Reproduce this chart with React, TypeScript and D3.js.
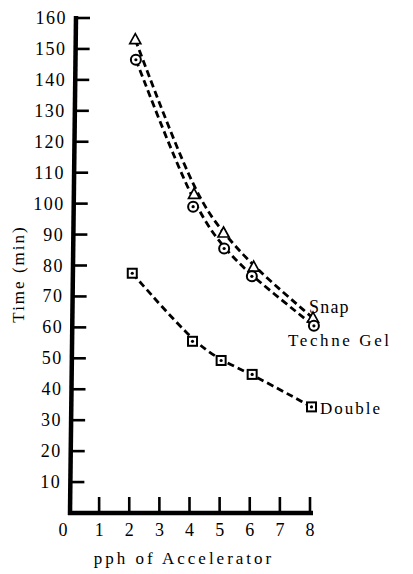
import React from "react";
import * as d3 from "d3";

const xTicks = [0, 1, 2, 3, 4, 5, 6, 7, 8];
const yTicks = [10, 20, 30, 40, 50, 60, 70, 80, 90, 100, 110, 120, 130, 140, 150, 160];

const snapX = [2.2, 4.15, 5.13, 6.13, 8.1];
const snapY = [153, 103, 90.5, 79.5, 63];
const techneX = [2.22, 4.12, 5.15, 6.07, 8.13];
const techneY = [146.5, 99, 85.5, 76.5, 60.5];
const doubleX = [2.1, 4.1, 5.05, 6.08, 8.05];
const doubleY = [77.5, 55.5, 49.3, 44.8, 34.3];

const serif = "Liberation Serif, Times New Roman, serif";

export default function App() {
  const W = 413, H = 574;
  const x = d3.scaleLinear().domain([0, 8]).range([69, 310]);
  const y = d3.scaleLinear().domain([0, 160]).range([513, 18]);
  const axX = (py: number) => 70 + (6 * (513 - py)) / 496;

  const line = d3
    .line<[number, number]>()
    .x((d) => x(d[0]))
    .y((d) => y(d[1]))
    .curve(d3.curveBasis);

  const pts = (xs: number[], ys: number[]) => xs.map((v, i) => [v, ys[i]] as [number, number]);
  const snap = pts(snapX, snapY);
  const techne = pts(techneX, techneY);
  const dbl = pts(doubleX, doubleY);

  const dash = { fill: "none", stroke: "#000", strokeWidth: 2.8, strokeDasharray: "7 4" };

  return (
    <svg width={W} height={H} style={{ position: "absolute", left: 0, top: 0, background: "#fff" }}>
      <path d={line(snap) || ""} {...dash} />
      <path d={line(techne) || ""} {...dash} />
      <path d={line(dbl) || ""} {...dash} />

      <line x1={axX(16)} y1={16} x2={axX(515)} y2={515} stroke="#000" strokeWidth={4.5} />
      <line x1={68} y1={513} x2={313} y2={513} stroke="#000" strokeWidth={4.5} />
      {yTicks.map((t) => (
        <g key={t}>
          <line x1={axX(y(t))} y1={y(t)} x2={axX(y(t)) + 14} y2={y(t)} stroke="#000" strokeWidth={2.6} />
          <text
            x={axX(y(t)) - 9}
            y={y(t) + 6}
            textAnchor="end"
            fontFamily={serif}
            fontSize={18}
            letterSpacing={1.5}
          >
            {t}
          </text>
        </g>
      ))}
      {xTicks.map((t) => (
        <g key={t}>
          {t > 0 && <line x1={x(t)} y1={513} x2={x(t)} y2={497} stroke="#000" strokeWidth={2.6} />}
          <text x={x(t) - (t === 0 ? 6 : 0)} y={536} textAnchor="middle" fontFamily={serif} fontSize={18}>
            {t}
          </text>
        </g>
      ))}

      {snap.map((d, i) => {
        const cx = x(d[0]), cy = y(d[1]);
        return (
          <path
            key={"s" + i}
            d={`M${cx},${cy - 6}L${cx + 5.5},${cy + 4}L${cx - 5.5},${cy + 4}Z`}
            fill="#fff"
            stroke="#000"
            strokeWidth={1.7}
          />
        );
      })}
      {techne.map((d, i) => (
        <g key={"t" + i}>
          <circle cx={x(d[0])} cy={y(d[1])} r={5} fill="#fff" stroke="#000" strokeWidth={2} />
          <circle cx={x(d[0])} cy={y(d[1])} r={1.6} fill="#000" />
        </g>
      ))}
      {dbl.map((d, i) => (
        <g key={"d" + i}>
          <rect x={x(d[0]) - 4.5} y={y(d[1]) - 4.5} width={9} height={9} fill="#fff" stroke="#000" strokeWidth={2} />
          <circle cx={x(d[0])} cy={y(d[1])} r={1.6} fill="#000" />
        </g>
      ))}

      <text x={309} y={313} fontFamily={serif} fontSize={18} letterSpacing={1.2}>Snap</text>
      <text x={288} y={346} fontFamily={serif} fontSize={17} letterSpacing={2.6}>Techne Gel</text>
      <text x={320} y={414} fontFamily={serif} fontSize={17} letterSpacing={2}>Double</text>

      <text x={184} y={564} textAnchor="middle" fontFamily={serif} fontSize={17} letterSpacing={3}>
        pph of Accelerator
      </text>
      <text
        transform="translate(24,274) rotate(-90)"
        textAnchor="middle"
        fontFamily={serif}
        fontSize={17}
        letterSpacing={2}
      >
        Time (min)
      </text>
    </svg>
  );
}
